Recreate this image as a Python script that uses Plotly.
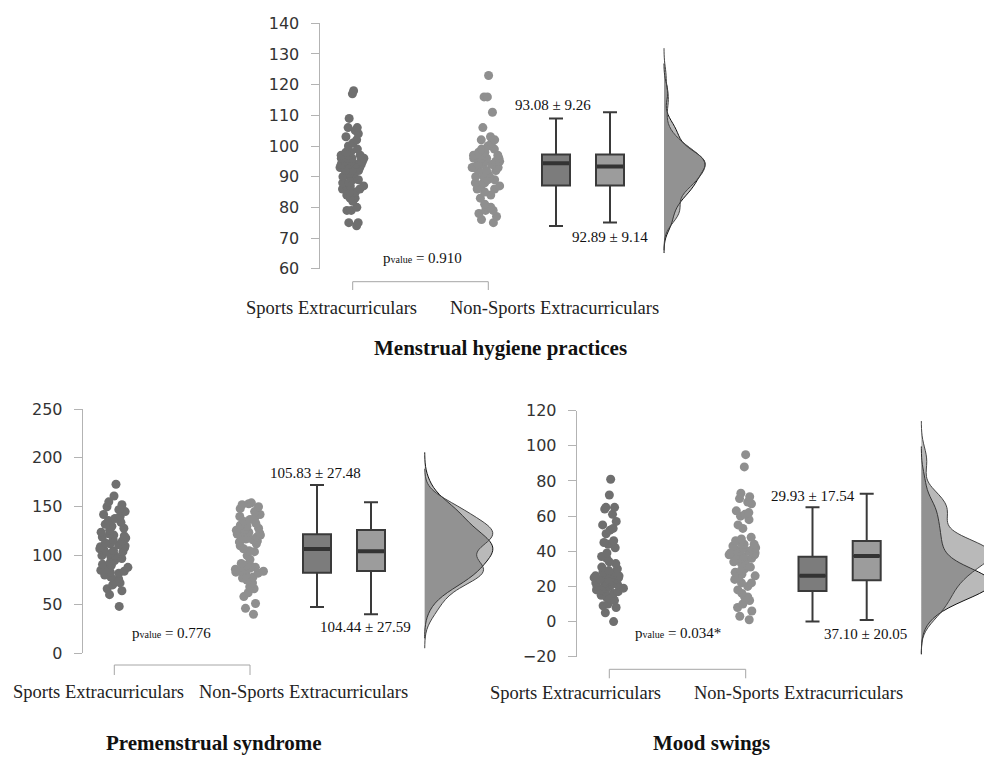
import numpy as np
import plotly.graph_objects as go

W, H = 984, 757

group_labels = ["Sports Extracurriculars", "Non-Sports Extracurriculars"]
titles = ["Menstrual hygiene practices", "Premenstrual syndrome", "Mood swings"]
p_values = ["0.910", "0.776", "0.034*"]

# ---- raw scores (read from the jittered clouds) ----
mhp_sports = [74, 75, 75, 79, 79, 80, 82, 83, 83, 84, 85, 85, 86, 87, 87, 87, 88, 88, 89, 89,
              90, 90, 90, 91, 91, 92, 92, 93, 93, 94, 94, 94, 95, 95, 95, 95, 96, 96, 96, 97,
              97, 97, 98, 98, 99, 100, 101, 102, 103, 104, 105, 106, 106, 109, 117, 118, 92, 94, 86, 96]
mhp_nonsports = [75, 76, 77, 78, 79, 79, 80, 80, 81, 83, 84, 85, 86, 87, 87, 88, 88, 89, 89, 90,
                 90, 91, 91, 92, 92, 93, 93, 93, 94, 94, 95, 95, 95, 96, 96, 97, 97, 97, 98, 98,
                 99, 99, 100, 101, 102, 102, 103, 106, 111, 116, 116, 123, 86, 92, 94, 96, 90, 88, 96, 93]
pms_sports = [48, 60, 64, 66, 70, 72, 74, 76, 78, 80, 82, 83, 84, 85, 86, 88, 90, 91, 93, 95,
              97, 98, 99, 100, 102, 104, 105, 106, 107, 108, 109, 110, 111, 112, 113, 115, 116, 118, 119, 120,
              121, 122, 124, 126, 128, 130, 132, 134, 136, 138, 140, 142, 145, 147, 150, 152, 155, 161, 173, 100]
pms_nonsports = [40, 46, 51, 58, 62, 66, 68, 72, 75, 77, 78, 80, 82, 83, 84, 85, 86, 87, 88, 90,
                 92, 96, 100, 104, 105, 107, 110, 112, 114, 115, 116, 117, 118, 119, 120, 121, 122, 123, 124, 125,
                 126, 127, 128, 130, 131, 133, 135, 137, 138, 140, 142, 145, 148, 150, 152, 153, 154, 86, 84, 89]
mood_sports = [0, 5, 8, 9, 10, 12, 13, 13, 14, 15, 16, 17, 17, 18, 18, 19, 19, 20, 20, 21,
               21, 22, 22, 23, 23, 24, 24, 25, 25, 26, 26, 27, 27, 28, 28, 29, 30, 31, 33, 34,
               36, 37, 39, 42, 44, 45, 46, 50, 52, 53, 55, 57, 61, 64, 65, 65, 72, 81, 20, 24]
mood_nonsports = [1, 3, 6, 8, 10, 12, 14, 14, 16, 18, 20, 22, 22, 24, 25, 26, 27, 28, 29, 30,
                  31, 32, 33, 34, 35, 36, 36, 37, 38, 38, 39, 40, 40, 41, 42, 42, 43, 44, 45, 46,
                  47, 48, 53, 55, 58, 60, 61, 62, 63, 67, 68, 70, 71, 73, 88, 95, 37, 39, 41, 44]

# ---- box statistics as drawn (sports, non-sports) ----
mhp_low = [73.9, 75.1]; mhp_q1 = [87.1, 87.1]; mhp_med = [94.4, 93.3]; mhp_q3 = [97.2, 97.2]; mhp_high = [109.0, 111.0]
pms_low = [47.4, 39.9]; pms_q1 = [82.5, 84.2]; pms_med = [106.7, 104.4]; pms_q3 = [121.8, 126.2]; pms_high = [172.2, 154.5]
mood_low = [0.0, 0.9]; mood_q1 = [17.4, 23.5]; mood_med = [26.1, 37.3]; mood_q3 = [36.9, 45.9]; mood_high = [65.1, 72.8]

mean_sd = [["93.08 ± 9.26", "92.89 ± 9.14"],
           ["105.83 ± 27.48", "104.44 ± 27.59"],
           ["29.93 ± 17.54", "37.10 ± 20.05"]]

# ---- layout geometry (pixels) ----
panels = [
    dict(data=(mhp_sports, mhp_nonsports), box=(mhp_low, mhp_q1, mhp_med, mhp_q3, mhp_high),
         xpx=(319.5, 740), ypx=(268.7, 23.3), yr=(60, 140), dtick=10,
         cloud=(353, 488), boxx=(556, 610), base=664, vwidth=41,
         ms_pos=[(553, 105), (609.5, 237)], p_pos=(422, 258),
         lab_pos=[(331, 308), (554, 308)], title_pos=(500.5, 348),
         bracket=(352.7, 488.3, 281.7, 290)),
    dict(data=(pms_sports, pms_nonsports), box=(pms_low, pms_q1, pms_med, pms_q3, pms_high),
         xpx=(82.7, 540), ypx=(653.3, 409), yr=(0, 250), dtick=50,
         cloud=(115, 250), boxx=(317, 371), base=424.7, vwidth=68,
         ms_pos=[(315, 472.7), (365, 627.3)], p_pos=(171.7, 632.7),
         lab_pos=[(98.5, 691.7), (303.3, 691.7)], title_pos=(214, 743),
         bracket=(114.3, 250, 665, 675)),
    dict(data=(mood_sports, mood_nonsports), box=(mood_low, mood_q1, mood_med, mood_q3, mood_high),
         xpx=(576.7, 984), ypx=(656.7, 410.7), yr=(-20, 120), dtick=20,
         cloud=(610, 745), boxx=(812.5, 866.7), base=921.3, vwidth=70,
         ms_pos=[(812.8, 496), (865.8, 634.3)], p_pos=(678.3, 633.3),
         lab_pos=[(575.5, 693.3), (798, 693.3)], title_pos=(711.3, 743),
         bracket=(609.3, 745.7, 669.3, 678.3)),
]

point_colors = ["#6f6f6f", "#8f8f8f"]
box_fills = ["#7c7c7c", "#9c9c9c"]
dens_fill = "rgba(100,100,100,0.45)"
dens_lines = ["#111111", "#444444"]
SERIF = "Liberation Serif"


def nrd0(v):
    v = np.asarray(v, float)
    sd = v.std(ddof=1)
    iqr = np.percentile(v, 75) - np.percentile(v, 25)
    return 0.9 * min(sd, iqr / 1.34) * len(v) ** (-0.2)


def px_x(x):
    return x / W


def px_y(y):
    return 1 - y / H


fig = go.Figure()
annotations = []
shapes = []

for k, P in enumerate(panels, start=1):
    xa = "x" if k == 1 else f"x{k}"
    ya = "y" if k == 1 else f"y{k}"
    # density clouds (half violins)
    for g in range(2):
        vals = P["data"][g]
        bw = nrd0(vals)
        fig.add_trace(go.Violin(
            x0=P["base"], y=vals, side="positive", width=2 * P["vwidth"],
            scalegroup=f"p{k}", scalemode="width", bandwidth=bw,
            spanmode="manual", span=[min(vals) - 3 * bw, max(vals) + 3 * bw],
            points=False, fillcolor=dens_fill,
            line=dict(color=dens_lines[g], width=1),
            box_visible=False, meanline_visible=False, hoverinfo="skip",
            showlegend=False, xaxis=xa, yaxis=ya))
    # jittered points
    for g in range(2):
        vals = P["data"][g]
        fig.add_trace(go.Box(
            x0=P["cloud"][g], y=vals, boxpoints="all", jitter=1, pointpos=0, width=34,
            fillcolor="rgba(0,0,0,0)", line=dict(width=0, color="rgba(0,0,0,0)"),
            marker=dict(color=point_colors[g], size=9, line=dict(width=0)),
            hoverinfo="skip", showlegend=False, xaxis=xa, yaxis=ya))
    # boxes from drawn statistics
    low, q1, med, q3, high = P["box"]
    for g in range(2):
        fig.add_trace(go.Box(
            x=[P["boxx"][g]], lowerfence=[low[g]], q1=[q1[g]], median=[med[g]],
            q3=[q3[g]], upperfence=[high[g]], width=28, whiskerwidth=0.5,
            fillcolor=box_fills[g], line=dict(color="#3a3a3a", width=2),
            boxpoints=False, hoverinfo="skip", showlegend=False, xaxis=xa, yaxis=ya))
        # thick median bar
        fig.add_trace(go.Box(
            x=[P["boxx"][g]], lowerfence=[med[g]], q1=[med[g]], median=[med[g]],
            q3=[med[g]], upperfence=[med[g]], width=26, whiskerwidth=0,
            fillcolor=box_fills[g], line=dict(color="#333333", width=4),
            boxpoints=False, hoverinfo="skip", showlegend=False, xaxis=xa, yaxis=ya))

    x0, x1 = P["xpx"]
    yb, yt = P["ypx"]
    xkey = "xaxis" if k == 1 else f"xaxis{k}"
    ykey = "yaxis" if k == 1 else f"yaxis{k}"
    fig.layout[xkey] = dict(domain=[px_x(x0), px_x(x1)], range=[x0, x1], type="linear",
                            visible=False, anchor=ya, fixedrange=True, automargin=False)
    fig.layout[ykey] = dict(domain=[px_y(yb), px_y(yt)], range=list(P["yr"]), anchor=xa,
                            dtick=P["dtick"], showgrid=False, zeroline=False,
                            showline=True, linecolor="#b3b3b3", linewidth=1,
                            ticks="outside", ticklen=8, tickcolor="#b3b3b3", tickwidth=1,
                            ticklabelstandoff=8, automargin=False,
                            tickfont=dict(family="DejaVu Sans", size=16, color="#333333"),
                            fixedrange=True)

    # text
    for g in range(2):
        mx, my = P["ms_pos"][g]
        annotations.append(dict(x=px_x(mx), y=px_y(my), xref="paper", yref="paper",
                                text=mean_sd[k - 1][g], showarrow=False,
                                font=dict(family=SERIF, size=15, color="#111111"),
                                xanchor="center", yanchor="middle"))
        lx, ly = P["lab_pos"][g]
        annotations.append(dict(x=px_x(lx), y=px_y(ly), xref="paper", yref="paper",
                                text=group_labels[g], showarrow=False,
                                font=dict(family=SERIF, size=18.5, color="#222222"),
                                xanchor="center", yanchor="middle"))
    ppx, ppy = P["p_pos"]
    annotations.append(dict(x=px_x(ppx), y=px_y(ppy), xref="paper", yref="paper",
                            text="p<span style='font-size:10px'>value</span> = " + p_values[k - 1],
                            showarrow=False, font=dict(family=SERIF, size=15, color="#111111"),
                            xanchor="center", yanchor="middle"))
    tx, ty = P["title_pos"]
    annotations.append(dict(x=px_x(tx), y=px_y(ty), xref="paper", yref="paper",
                            text="<b>" + titles[k - 1] + "</b>", showarrow=False,
                            font=dict(family=SERIF, size=21, color="#111111"),
                            xanchor="center", yanchor="middle"))
    bx1, bx2, byt, byb = P["bracket"]
    shapes.append(dict(type="path", xref="paper", yref="paper",
                       path=f"M {px_x(bx1)},{px_y(byb)} L {px_x(bx1)},{px_y(byt)} "
                            f"L {px_x(bx2)},{px_y(byt)} L {px_x(bx2)},{px_y(byb)}",
                       line=dict(color="#a6a6a6", width=1)))

fig.update_layout(width=W, height=H, margin=dict(l=0, r=0, t=0, b=0, autoexpand=False),
                  paper_bgcolor="white", plot_bgcolor="white",
                  annotations=annotations, shapes=shapes,
                  boxmode="overlay", violinmode="overlay", showlegend=False)

fig.write_html("out.html", config={"displayModeBar": False},
               post_script="document.body.style.margin='0px';")
